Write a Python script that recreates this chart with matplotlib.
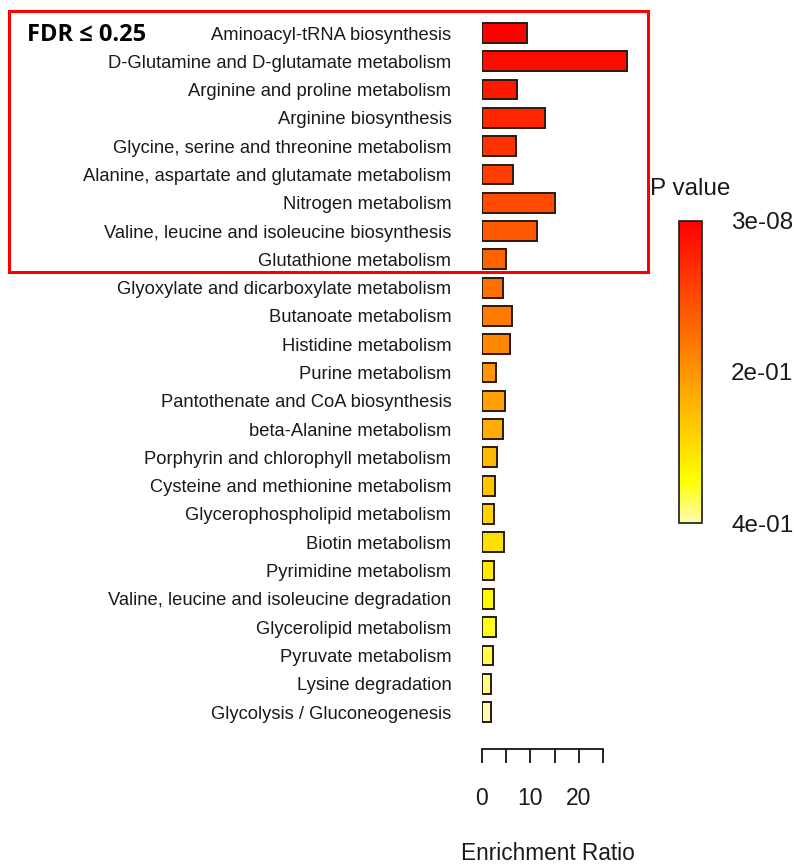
import numpy as np
import matplotlib
matplotlib.use("Agg")
import matplotlib.pyplot as plt
from matplotlib.colors import LinearSegmentedColormap, Normalize
from matplotlib.cm import ScalarMappable
from matplotlib.patches import Rectangle

plt.rcParams['font.family'] = ['Liberation Sans', 'DejaVu Sans']

# pathway enrichment results, sorted by p value
pathways = [
    "Aminoacyl-tRNA biosynthesis",
    "D-Glutamine and D-glutamate metabolism",
    "Arginine and proline metabolism",
    "Arginine biosynthesis",
    "Glycine, serine and threonine metabolism",
    "Alanine, aspartate and glutamate metabolism",
    "Nitrogen metabolism",
    "Valine, leucine and isoleucine biosynthesis",
    "Glutathione metabolism",
    "Glyoxylate and dicarboxylate metabolism",
    "Butanoate metabolism",
    "Histidine metabolism",
    "Purine metabolism",
    "Pantothenate and CoA biosynthesis",
    "beta-Alanine metabolism",
    "Porphyrin and chlorophyll metabolism",
    "Cysteine and methionine metabolism",
    "Glycerophospholipid metabolism",
    "Biotin metabolism",
    "Pyrimidine metabolism",
    "Valine, leucine and isoleucine degradation",
    "Glycerolipid metabolism",
    "Pyruvate metabolism",
    "Lysine degradation",
    "Glycolysis / Gluconeogenesis",
]
enrichment = [9.4, 29.9, 7.2, 13.0, 7.0, 6.5, 15.1, 11.3, 4.9,
              4.3, 6.1, 5.7, 2.9, 4.8, 4.4, 3.1, 2.7, 2.5,
              4.6, 2.4, 2.4, 2.9, 2.2, 1.9, 1.9]
pvals = [3e-08, 1.2e-06, 2.1e-04, 5.5e-04, 3.2e-03, 6.1e-03, 1.4e-02, 2.9e-02, 7.8e-02,
         0.11, 0.13, 0.16, 0.20, 0.21, 0.23, 0.26, 0.28, 0.30,
         0.31, 0.33, 0.35, 0.36, 0.37, 0.39, 0.40]
x_ticks = [0, 5, 10, 15, 20, 25]
x_ticklabels = ["0", "", "10", "", "20", ""]

# red -> yellow -> pale yellow, like R's heat colours
heat = LinearSegmentedColormap.from_list(
    "heat", [(0.0, "#FF0000"), (0.86, "#FFFF00"), (1.0, "#FFFBB0")])

n = len(pathways)
rank = np.argsort(np.argsort(pvals))
norm = Normalize(0, n - 1)
colors = heat(norm(rank))

W, H = 794, 866
fig = plt.figure(figsize=(W / 100, H / 100), dpi=100)

# main bar axes: x=0 at 482px, 4.84 px per unit; rows from y=33 to y=712
x_left = 482
xmax = 31
px_per_unit = 4.84
row_top, row_bot = 33, 712
step = (row_bot - row_top) / (n - 1)
ax_top = row_top - step / 2
ax_bot = row_bot + step / 2
ax = fig.add_axes([x_left / W, 1 - ax_bot / H,
                   xmax * px_per_unit / W, (ax_bot - ax_top) / H])

y = np.arange(n)
ax.barh(y, enrichment, height=0.7, color=colors, edgecolor="#2a1a10",
        linewidth=1.4, align="center")
ax.set_ylim(n - 0.5, -0.5)
ax.set_xlim(0, xmax)

ax.set_yticks(y)
ax.set_yticklabels(pathways, fontsize=13.2, color="#1a1a1a")
ax.tick_params(axis="y", length=0, pad=22)

for s in ["top", "right", "left"]:
    ax.spines[s].set_visible(False)
ax.spines["bottom"].set_position(("outward", 16.5))
ax.spines["bottom"].set_bounds(0, 25)
ax.spines["bottom"].set_linewidth(1.2)
ax.set_xticks(x_ticks)
ax.set_xticklabels(x_ticklabels, fontsize=16.5, color="#1a1a1a")
ax.tick_params(axis="x", direction="out", length=10, width=1.2, pad=17)
ax.set_xlabel("Enrichment Ratio", fontsize=16.3, color="#1a1a1a")
ax.xaxis.set_label_coords((548 - x_left) / (xmax * px_per_unit),
                          -(853 - ax_bot) / (ax_bot - ax_top))
ax.xaxis.label.set_va("center")

# p value colour bar
cax = fig.add_axes([679 / W, 1 - 523 / H, 23 / W, 302 / H])
cb = fig.colorbar(ScalarMappable(norm=norm, cmap=heat), cax=cax)
cax.invert_yaxis()
sorted_p = np.sort(pvals)
cb.set_ticks([0, (n - 1) / 2, n - 1])
cb.set_ticklabels(["{:.0e}".format(sorted_p[0]),
                   "{:.0e}".format(np.median(sorted_p)),
                   "{:.0e}".format(sorted_p[-1])])
cax.tick_params(length=0, pad=21, labelsize=17.5, labelcolor="#1a1a1a")
cb.outline.set_linewidth(1.2)
cb.outline.set_edgecolor("#1a1a1a")
cax.set_title("P value", fontsize=17.5, pad=19, color="#1a1a1a")

# box around the significant pathways
fig.patches.append(Rectangle((8.5 / W, 1 - 272 / H), (647.5 - 8.5) / W, (272 - 11) / H,
                             transform=fig.transFigure, fill=False,
                             edgecolor="#FF0000", linewidth=2.2))
fig.text(27 / W, 1 - 35 / H, "FDR \u2264 0.25", fontsize=17, fontweight="bold",
         family=["Open Sans", "DejaVu Sans"], va="center", ha="left")

fig.savefig("out.png", dpi=100)
